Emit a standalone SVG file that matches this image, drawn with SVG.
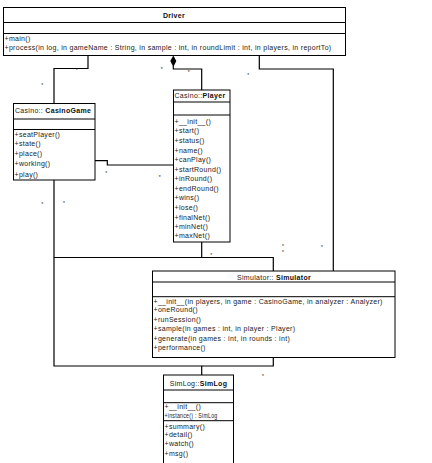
<svg xmlns="http://www.w3.org/2000/svg" width="432" height="463" viewBox="0 0 432 463">
<style>
text{font-family:"Liberation Sans",Arial,sans-serif;font-size:7px;letter-spacing:0.3px;fill:#222}
.b{font-weight:bold;fill:#111}
.s{font-size:5px;letter-spacing:0}
.box{fill:#fff;stroke:#000;stroke-width:1}
.ln{fill:none;stroke:#000;stroke-width:1.2}
</style>
<rect width="432" height="463" fill="#fff"/>
<g id="connectors">
<path class="ln" d="M88,55.5 V68.5 H54 V103"/>
<path class="ln" d="M173.3,66 V69 H201.7 V90"/>
<polygon points="173.3,55.5 176.3,61 173.3,67 170.3,61" fill="#000"/>
<path class="ln" d="M259.3,55.5 V69 H333.3 V271"/>
<path class="ln" d="M95,160.7 H107.3 V165 H173.3"/>
<path class="ln" d="M201.7,242 V257.5 H273.3 V271"/>
<path class="ln" d="M54,180 V257.5 H201.7"/>
<path class="ln" d="M54,257.5 V366 H201.7 V375"/>
<path class="ln" d="M273.3,357 V366 H201.7"/>
<g>
<text class="s" x="75.8" y="72">*</text>
<text class="s" x="41.3" y="87">*</text>
<text class="s" x="160.8" y="71">*</text>
<text class="s" x="187.8" y="74">*</text>
<text class="s" x="247.3" y="77">*</text>
<text class="s" x="105.3" y="175">*</text>
<text class="s" x="158.8" y="179">*</text>
<text class="s" x="41.3" y="205.5">*</text>
<text class="s" x="63.1" y="204.5">*</text>
<text class="s" x="210.3" y="257.3">*</text>
<text class="s" x="282.1" y="248">*</text>
<text class="s" x="282.1" y="254">*</text>
<text class="s" x="321.1" y="248.5">*</text>
<text class="s" x="188.8" y="359">*</text>
<text class="s" x="262.1" y="378">*</text>
</g>
</g>
<g id="driver">
<rect class="box" x="3.5" y="7.5" width="342" height="48"/>
<line x1="3.5" y1="22.5" x2="345.5" y2="22.5" stroke="#000"/>
<line x1="3.5" y1="33.5" x2="345.5" y2="33.5" stroke="#000"/>
<text class="b" x="174" y="17.8" text-anchor="middle">Driver</text>
<text x="4.5" y="41">+main()</text>
<text x="4.5" y="50">+process(in log, in gameName : String, in sample : int, in roundLimit : int, in players, in reportTo)</text>
</g>
<g id="casinogame">
<rect class="box" x="13.5" y="103.5" width="81.5" height="76.5"/>
<line x1="13.5" y1="119" x2="95" y2="119" stroke="#000"/>
<line x1="13.5" y1="129.5" x2="95" y2="129.5" stroke="#000"/>
<text x="15" y="112.8">Casino:: <tspan class="b">CasinoGame</tspan></text>
<text x="14.5" y="136.8">+seatPlayer()</text>
<text x="14.5" y="146.2">+state()</text>
<text x="14.5" y="156.2">+place()</text>
<text x="14.5" y="166.2">+working()</text>
<text x="14.5" y="176.8">+play()</text>
</g>
<g id="player">
<rect class="box" x="173.5" y="90" width="56.5" height="152"/>
<line x1="173.5" y1="102" x2="230" y2="102" stroke="#000"/>
<line x1="173.5" y1="115" x2="230" y2="115" stroke="#000"/>
<text x="174.5" y="98.2">Casino::<tspan class="b">Player</tspan></text>
<text x="174.5" y="123.5">+__init__()</text>
<text x="174.5" y="132.8">+start()</text>
<text x="174.5" y="142.8">+status()</text>
<text x="174.5" y="152.8">+name()</text>
<text x="174.5" y="162">+canPlay()</text>
<text x="174.5" y="171.8">+startRound()</text>
<text x="174.5" y="181">+inRound()</text>
<text x="174.5" y="190.5">+endRound()</text>
<text x="174.5" y="200">+wins()</text>
<text x="174.5" y="209.5">+lose()</text>
<text x="174.5" y="219.5">+finalNet()</text>
<text x="174.5" y="228.8">+minNet()</text>
<text x="174.5" y="237.8">+maxNet()</text>
</g>
<g id="simulator">
<rect class="box" x="152.5" y="271" width="242.5" height="86.5"/>
<line x1="152.5" y1="282" x2="395" y2="282" stroke="#000"/>
<line x1="152.5" y1="296.7" x2="395" y2="296.7" stroke="#000"/>
<text x="274" y="279.5" text-anchor="middle">Simulator:: <tspan class="b">Simulator</tspan></text>
<text x="153.5" y="304.2">+__init__(in players, in game : CasinoGame, in analyzer : Analyzer)</text>
<text x="153.5" y="311.8">+oneRound()</text>
<text x="153.5" y="321.8">+runSession()</text>
<text x="153.5" y="331">+sample(in games : int, in player : Player)</text>
<text x="153.5" y="340.5">+generate(in games : int, in rounds : int)</text>
<text x="153.5" y="349.5">+performance()</text>
</g>
<g id="simlog">
<rect class="box" x="163.5" y="375" width="70" height="95"/>
<line x1="163.5" y1="390" x2="233.5" y2="390" stroke="#000"/>
<line x1="163.5" y1="402.7" x2="233.5" y2="402.7" stroke="#000"/>
<line x1="163.5" y1="420.7" x2="233.5" y2="420.7" stroke="#000"/>
<text x="198.5" y="386.3" text-anchor="middle">SimLog::<tspan class="b">SimLog</tspan></text>
<text x="164.5" y="409.2">+__init__()</text>
<text x="164.5" y="417.8" textLength="53" lengthAdjust="spacingAndGlyphs">+instance() : SimLog</text>
<text x="164.5" y="428.5">+summary()</text>
<text x="164.5" y="437">+detail()</text>
<text x="164.5" y="446">+watch()</text>
<text x="164.5" y="455.5">+msg()</text>
</g>
</svg>
